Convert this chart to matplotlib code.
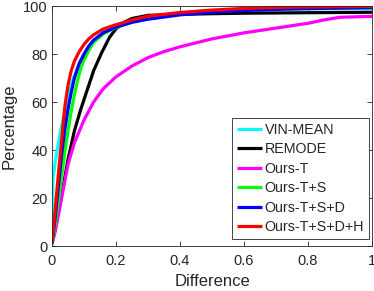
import matplotlib
matplotlib.use("Agg")
import matplotlib.pyplot as plt

plt.rcParams['font.family'] = ['Liberation Sans', 'DejaVu Sans']

labels = ["VIN-MEAN", "REMODE", "Ours-T", "Ours-T+S", "Ours-T+S+D", "Ours-T+S+D+H"]
colors = ["#00ffff", "#000000", "#ff00ff", "#00ff00", "#0000ff", "#ff0000"]

x_vin = [0, 0.003, 0.01, 0.02, 0.03, 0.04, 0.05, 0.06, 0.07, 0.085, 0.1, 0.115, 0.13, 0.16, 0.2, 0.25, 0.3, 0.4, 0.5, 0.6, 0.7, 0.8, 0.9, 1.0]
y_vin = [0, 28, 35, 43, 50, 56, 62, 67, 71, 76, 79.5, 83, 85.5, 89, 91.6, 93.8, 95.3, 96.9, 97.8, 98.3, 98.6, 98.8, 98.9, 99.0]

x_remode = [0, 0.01, 0.02, 0.03, 0.05, 0.07, 0.09, 0.11, 0.13, 0.155, 0.18, 0.2, 0.225, 0.25, 0.3, 0.4, 0.5, 0.6, 0.7, 0.8, 0.9, 1.0]
y_remode = [1, 7, 14, 21, 36, 48, 57, 65, 73, 80.5, 87, 90.5, 93.2, 94.8, 96.1, 96.5, 96.8, 97.0, 97.1, 97.2, 97.3, 97.4]

x_t = [0, 0.01, 0.02, 0.03, 0.05, 0.07, 0.1, 0.13, 0.16, 0.2, 0.25, 0.3, 0.35, 0.4, 0.5, 0.6, 0.7, 0.8, 0.85, 0.9, 1.0]
y_t = [1, 6, 13, 20, 34, 43, 52.5, 60, 65.5, 70.5, 75, 78.5, 81, 83, 86.3, 88.8, 90.8, 92.8, 94.2, 95.3, 95.7]

x_ts = [0, 0.01, 0.02, 0.03, 0.04, 0.05, 0.06, 0.07, 0.08, 0.09, 0.1, 0.115, 0.13, 0.16, 0.2, 0.25, 0.3, 0.4, 0.5, 0.6, 0.7, 0.8, 0.9, 1.0]
y_ts = [1, 9, 19, 29, 39, 48, 56, 63, 69, 74, 77.5, 81.5, 84.8, 88.4, 91, 93.3, 94.8, 96.6, 97.6, 98.3, 98.8, 99.1, 99.3, 99.5]

x_tsd = [0, 0.01, 0.02, 0.03, 0.04, 0.05, 0.06, 0.07, 0.085, 0.1, 0.115, 0.13, 0.16, 0.2, 0.25, 0.3, 0.4, 0.5, 0.6, 0.7, 0.8, 0.9, 1.0]
y_tsd = [1, 12, 25, 38, 48.5, 57, 64, 70, 76, 80, 83.3, 85.8, 88.8, 91.2, 93.2, 94.5, 96.3, 97.4, 98.1, 98.6, 98.9, 99.1, 99.3]

x_tsdh = [0, 0.01, 0.02, 0.03, 0.04, 0.05, 0.06, 0.07, 0.085, 0.1, 0.115, 0.13, 0.16, 0.2, 0.25, 0.3, 0.4, 0.5, 0.6, 0.7, 0.8, 0.9, 1.0]
y_tsdh = [1, 15, 30, 44, 58, 67, 73, 77, 81, 84, 86.3, 88, 90.4, 92.2, 94.2, 95.8, 97.3, 98.3, 99.0, 99.4, 99.6, 99.7, 99.8]

xs = [x_vin, x_remode, x_t, x_ts, x_tsd, x_tsdh]
ys = [y_vin, y_remode, y_t, y_ts, y_tsd, y_tsdh]

x_ticks = [0, 0.2, 0.4, 0.6, 0.8, 1]
x_ticklabels = ["0", "0.2", "0.4", "0.6", "0.8", "1"]
y_ticks = [0, 20, 40, 60, 80, 100]

gray = "#262626"
fig = plt.figure(figsize=(3.74, 2.91), dpi=100)
ax = fig.add_axes([52/374, 1 - 246/291, 320/374, 240/291])

for x, y, c, l in zip(xs, ys, colors, labels):
    ax.plot(x, y, color=c, lw=2.3, label=l, solid_capstyle='butt', solid_joinstyle='round')

ax.set_xlim(0, 1)
ax.set_ylim(0, 100)
ax.set_xticks(x_ticks)
ax.set_xticklabels(x_ticklabels)
ax.set_yticks(y_ticks)
ax.tick_params(direction='in', length=3.5, width=0.6, top=True, right=True,
               labelsize=10.5, colors=gray)
ax.tick_params(axis='x', pad=6)
ax.tick_params(axis='y', pad=3)
for s in ax.spines.values():
    s.set_color(gray)
    s.set_linewidth(0.6)
ax.set_xlabel("Difference", fontsize=12, color=gray, labelpad=4)
ax.set_ylabel("Percentage", fontsize=12, color=gray, labelpad=5)

leg = ax.legend(loc='lower right', bbox_to_anchor=(1 - 3/320, 7/240), borderaxespad=0,
                fontsize=10.3, handlelength=1.8, handletextpad=0.15, labelspacing=0.38,
                borderpad=0.35, fancybox=False, framealpha=1, edgecolor=gray)
leg.get_frame().set_linewidth(0.6)
for t in leg.get_texts():
    t.set_color(gray)

fig.savefig("out.png", dpi=100)
